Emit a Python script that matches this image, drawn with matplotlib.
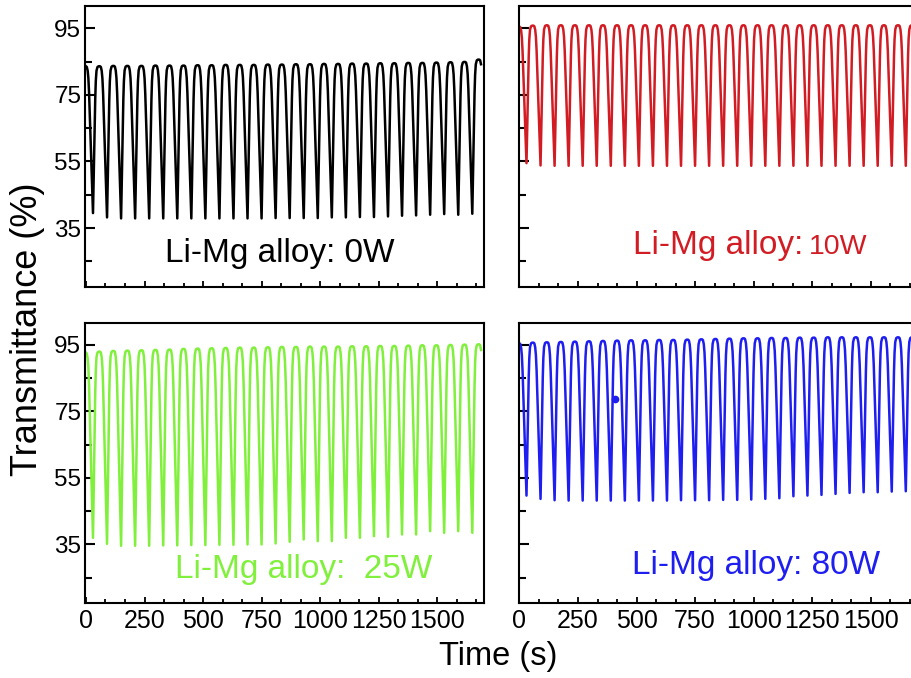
import matplotlib
matplotlib.use("Agg")
import matplotlib.pyplot as plt
from matplotlib.ticker import FixedLocator, AutoMinorLocator

plt.rcParams['font.family'] = ['Liberation Sans', 'DejaVu Sans']

# ---------------- data ----------------
period = 60.0          # s, one colouring/bleaching cycle
t_end = 1690.0         # s, end of the record

# peak transmittance of each cycle (peaks at t = 0, 60, ..., 1680 s)
peaks_0w = [83.6, 83.6, 83.7, 83.7, 83.7, 83.8, 83.8, 83.8, 83.9, 83.9, 84.0, 84.0, 84.0, 84.1,
            84.1, 84.2, 84.2, 84.3, 84.3, 84.4, 84.4, 84.5, 84.5, 84.6, 84.6, 84.7, 84.8, 84.9, 85.6]
valleys_0w = [39.5, 38.2, 37.9, 37.9, 37.9, 37.9, 37.9, 37.9, 37.9, 37.9, 37.9, 37.9, 37.9, 38.0,
              38.0, 38.0, 38.0, 38.2, 38.2, 38.3, 38.3, 38.5, 38.7, 38.8, 39.0, 39.2, 39.0, 39.3]

peaks_10w = [95.5, 95.8, 95.9, 95.9, 95.9, 95.9, 95.9, 95.9, 95.9, 95.9, 95.9, 95.9, 95.9, 95.9,
             95.9, 95.9, 95.9, 95.9, 95.9, 95.9, 95.9, 95.9, 95.9, 95.9, 95.9, 95.9, 95.9, 95.9, 95.9]
valleys_10w = [54.5, 53.8, 53.7, 53.7, 53.7, 53.7, 53.7, 53.7, 53.7, 53.7, 53.7, 53.7, 53.7, 53.7,
               53.7, 53.7, 53.7, 53.7, 53.7, 53.7, 53.7, 53.7, 53.7, 53.7, 53.7, 53.7, 53.7, 53.7]

peaks_25w = [92.7, 93.0, 93.2, 93.3, 93.4, 93.5, 93.6, 93.8, 93.9, 94.0, 94.1, 94.2, 94.2, 94.3,
             94.4, 94.4, 94.5, 94.5, 94.5, 94.6, 94.6, 94.7, 94.7, 94.8, 94.9, 94.9, 95.0, 95.1, 95.2]
valleys_25w = [37.0, 35.2, 34.6, 34.6, 34.6, 34.7, 34.7, 34.8, 34.8, 34.9, 34.9, 35.0, 35.0, 35.3,
               35.8, 36.5, 36.0, 36.0, 37.0, 37.0, 37.5, 37.3, 38.0, 38.0, 39.0, 38.5, 39.0, 38.5]

peaks_80w = [95.5, 95.7, 95.8, 95.9, 96.0, 96.1, 96.2, 96.3, 96.4, 96.4, 96.5, 96.5, 96.6, 96.7,
             96.8, 96.9, 97.0, 97.0, 97.1, 97.1, 97.2, 97.2, 97.3, 97.3, 97.3, 97.3, 97.3, 97.3, 97.3]
valleys_80w = [49.7, 48.7, 48.3, 48.2, 48.2, 48.2, 48.2, 48.2, 48.2, 48.2, 48.2, 48.3, 48.3, 48.3,
               48.4, 48.4, 48.5, 48.7, 48.9, 49.5, 49.7, 49.9, 50.2, 50.5, 50.7, 50.7, 50.9, 51.0]

# isolated data point in the 80 W record
dot_80w_t = [406.0]
dot_80w_y = [78.7]

# shape of one cycle, read from a single cycle (fraction of period, fraction of swing)
# falling part, measured from the peak reference time (valley at 0.5)
down_offset = [0.0, 0.06, 0.12, 0.17, 0.22, 0.28, 0.34, 0.40, 0.45, 0.5]
down_shape = [1.0, 0.995, 0.97, 0.92, 0.82, 0.64, 0.46, 0.29, 0.14, 0.0]
# rising part, measured from the valley
up_offset = [0.04, 0.08, 0.12, 0.16, 0.20, 0.25, 0.32, 0.40]
up_shape = [0.20, 0.40, 0.60, 0.78, 0.90, 0.97, 0.995, 1.0]

labels = ["Li-Mg alloy: 0W", "Li-Mg alloy:", "Li-Mg alloy:  25W", "Li-Mg alloy: 80W"]
label_extra = "10W"

y_major = [35, 55, 75, 95]
y_minor = [25, 45, 65, 85]
x_major = [0, 250, 500, 750, 1000, 1250, 1500]

black = "#000000"
red = "#d21c24"
green = "#80f03c"
blue = "#1e1ef0"


def build(peaks, valleys):
    ts, ys = [], []
    for j, pk in enumerate(peaks):
        tp = j * period
        base = valleys[j] if j < len(valleys) else valleys[j - 1]
        for off, s in zip(down_offset, down_shape):
            t = tp + off * period
            if t <= t_end:
                ts.append(t)
                ys.append(base + (pk - base) * s)
        if j < len(valleys) and j + 1 < len(peaks):
            tv = tp + 0.5 * period
            for off, s in zip(up_offset, up_shape):
                t = tv + off * period
                if t <= t_end:
                    ts.append(t)
                    ys.append(valleys[j] + (peaks[j + 1] - valleys[j]) * s)
    return ts, ys


W, H = 912, 678
fig = plt.figure(figsize=(W / 100, H / 100), dpi=100)


def px_axes(left, top, right, bottom):
    return fig.add_axes([left / W, 1 - bottom / H, (right - left) / W, (bottom - top) / H])


aw = 398.5
ax_tl = px_axes(85.5, 6, 85.5 + aw, 287)
ax_tr = px_axes(519, 6, 519 + aw, 287)
ax_bl = px_axes(85.5, 322.7, 85.5 + aw, 603.3)
ax_br = px_axes(519, 322.7, 519 + aw, 603.3)

panels = [
    (ax_tl, peaks_0w, valleys_0w, black),
    (ax_tr, peaks_10w, valleys_10w, red),
    (ax_bl, peaks_25w, valleys_25w, green),
    (ax_br, peaks_80w, valleys_80w, blue),
]

for i, (ax, pk, vl, col) in enumerate(panels):
    t, y = build(pk, vl)
    ax.plot(t, y, color=col, lw=1.8, solid_joinstyle='round')
    ax.set_xlim(-2, 1700)
    ax.set_ylim(17.3, 101.7)
    ax.yaxis.set_major_locator(FixedLocator(y_major))
    ax.yaxis.set_minor_locator(FixedLocator(y_minor))
    ax.xaxis.set_major_locator(FixedLocator(x_major))
    ax.xaxis.set_minor_locator(AutoMinorLocator(3))
    for sp in ax.spines.values():
        sp.set_linewidth(1.5)
    ax.tick_params(axis='y', which='major', direction='in', length=7.5, width=1.5,
                   labelsize=17.5, pad=3, left=True, right=False)
    ax.tick_params(axis='y', which='minor', direction='in', length=5, width=1.5,
                   left=True, right=False)
    ax.tick_params(axis='x', which='major', direction='in', length=4, width=1.3,
                   labelsize=18, pad=4, bottom=True, top=False)
    ax.tick_params(axis='x', which='minor', direction='in', length=2.8, width=1.3,
                   bottom=True, top=False)
    if i in (1, 3):
        ax.tick_params(axis='y', labelleft=False)
    if i in (0, 1):
        ax.tick_params(axis='x', labelbottom=False)

ax_br.plot(dot_80w_t, dot_80w_y, 'o', color=blue, ms=4.5)

ax_tl.text(338, 24.8, labels[0], color=black, fontsize=24, ha='left', va='baseline')
ax_tr.text(486, 27.3, labels[1], color=red, fontsize=24, ha='left', va='baseline')
ax_tr.text(1234, 27.3, label_extra, color=red, fontsize=20.5, ha='left', va='baseline')
ax_bl.text(380, 24.8, labels[2], color=green, fontsize=24, ha='left', va='baseline')
ax_br.text(480, 26.1, labels[3], color=blue, fontsize=24, ha='left', va='baseline')

fig.text(28 / W, 1 - 329 / H, "Transmittance (%)", rotation=90, fontsize=26,
         ha='center', va='center')
fig.text(498 / W, 1 - 656 / H, "Time (s)", fontsize=23.5, ha='center', va='center')

fig.savefig("out.png", dpi=100)
